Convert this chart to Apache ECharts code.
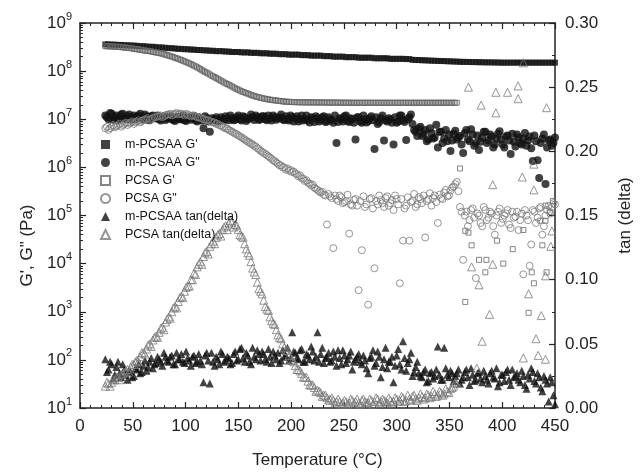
<!DOCTYPE html>
<html><head><meta charset="utf-8">
<script src="https://cdn.jsdelivr.net/npm/echarts@6/dist/echarts.min.js"></script>
<style>html,body{margin:0;padding:0;background:#fff}#c{width:642px;height:474px}</style>
</head><body><div id="c"></div>
<script>
// Temperature grids (°C)
const temps = [24,27,30,33,36,39,42,45,48,51,
54,57,60,63,66,69,72,75,78,81,
84,87,90,93,96,99,102,105,108,111,
114,117,120,123,126,129,132,135,138,141,
144,147,150,153,156,159,162,165,168,171,
174,177,180,183,186,189,192,195,198,201,
204,207,210,213,216,219,222,225,228,231,
234,237,240,243,246,249,252,255,258,261,
264,267,270,273,276,279,282,285,288,291,
294,297,300,303,306,309,312,315,318,321,
324,327,330,333,336,339,342,345,348,351,
354,357,360,363,366,369,372,375,378,381,
384,387,390,393,396,399,402,405,408,411,
414,417,420,423,426,429,432,435,438,441,
444,447,450];
const temps2 = [25.5,28.5,31.5,34.5,37.5,40.5,43.5,46.5,49.5,52.5,
55.5,58.5,61.5,64.5,67.5,70.5,73.5,76.5,79.5,82.5,
85.5,88.5,91.5,94.5,97.5,100.5,103.5,106.5,109.5,112.5,
115.5,118.5,121.5,124.5,127.5,130.5,133.5,136.5,139.5,142.5,
145.5,148.5,151.5,154.5,157.5,160.5,163.5,166.5,169.5,172.5,
175.5,178.5,181.5,184.5,187.5,190.5,193.5,196.5,199.5,202.5,
205.5,208.5,211.5,214.5,217.5,220.5,223.5,226.5,229.5,232.5,
235.5,238.5,241.5,244.5,247.5,250.5,253.5,256.5,259.5,262.5,
265.5,268.5,271.5,274.5,277.5,280.5,283.5,286.5,289.5,292.5,
295.5,298.5,301.5,304.5,307.5,310.5,313.5,316.5,319.5,322.5,
325.5,328.5,331.5,334.5,337.5,340.5,343.5,346.5,349.5,352.5,
355.5,358.5,361.5,364.5,367.5,370.5,373.5,376.5,379.5,382.5,
385.5,388.5,391.5,394.5,397.5,400.5,403.5,406.5,409.5,412.5,
415.5,418.5,421.5,424.5,427.5,430.5,433.5,436.5,439.5,442.5,
445.5,448.5];

// m-PCSAA G' (Pa)
const mGp = [3.6e8,3.6e8,3.55e8,3.55e8,3.5e8,3.5e8,3.45e8,3.45e8,3.4e8,3.4e8,
3.35e8,3.3e8,3.3e8,3.25e8,3.2e8,3.2e8,3.15e8,3.1e8,3.1e8,3.05e8,
3.0e8,3.0e8,2.95e8,2.9e8,2.9e8,2.85e8,2.85e8,2.8e8,2.8e8,2.75e8,
2.75e8,2.7e8,2.7e8,2.65e8,2.65e8,2.6e8,2.6e8,2.6e8,2.55e8,2.55e8,
2.5e8,2.5e8,2.5e8,2.45e8,2.45e8,2.45e8,2.4e8,2.4e8,2.4e8,2.35e8,
2.35e8,2.35e8,2.3e8,2.3e8,2.3e8,2.25e8,2.25e8,2.25e8,2.2e8,2.2e8,
2.2e8,2.2e8,2.15e8,2.15e8,2.15e8,2.1e8,2.1e8,2.1e8,2.1e8,2.05e8,
2.05e8,2.05e8,2.0e8,2.0e8,2.0e8,2.0e8,1.95e8,1.95e8,1.95e8,1.95e8,
1.9e8,1.9e8,1.9e8,1.9e8,1.9e8,1.85e8,1.85e8,1.85e8,1.85e8,1.85e8,
1.8e8,1.8e8,1.8e8,1.8e8,1.8e8,1.78e8,1.78e8,1.72e8,1.7e8,1.7e8,
1.68e8,1.68e8,1.66e8,1.65e8,1.64e8,1.63e8,1.62e8,1.62e8,1.6e8,1.6e8,
1.58e8,1.58e8,1.56e8,1.56e8,1.55e8,1.55e8,1.54e8,1.54e8,1.53e8,1.53e8,
1.52e8,1.52e8,1.52e8,1.51e8,1.51e8,1.5e8,1.5e8,1.5e8,1.5e8,1.5e8,
1.5e8,1.5e8,1.5e8,1.5e8,1.5e8,1.5e8,1.5e8,1.5e8,1.5e8,1.5e8,
1.5e8,1.5e8,1.5e8];

// m-PCSAA G" (Pa), two readings per temperature step
const mGdd = [1.2e7,1.0e7,1.3e7,1.1e7,9.5e6,1.25e7,1.05e7,1.15e7,9.8e6,1.2e7,
1.1e7,1.3e7,1.0e7,1.15e7,9.5e6,1.2e7,1.05e7,1.0e7,1.1e7,9.6e6,
1.05e7,1.0e7,9.2e6,1.1e7,1.0e7,9.5e6,1.05e7,9.8e6,1.15e7,9.0e6,
1.0e7,6.5e6,1.05e7,5.5e6,9.6e6,1.1e7,9.3e6,1.0e7,1.15e7,9.5e6,
1.05e7,9.8e6,1.2e7,9.4e6,1.1e7,1.0e7,1.25e7,9.6e6,1.1e7,1.0e7,
1.15e7,9.5e6,1.05e7,1.2e7,9.8e6,1.1e7,1.0e7,1.15e7,9.4e6,1.1e7,
1.05e7,9.0e6,1.2e7,1.0e7,9.5e6,1.1e7,8.8e6,1.05e7,9.6e6,1.15e7,
9.0e6,1.0e7,8.5e6,3.2e6,1.05e7,9.0e6,1.2e7,8.8e6,1.0e7,3.8e6,
1.1e7,8.5e6,1.0e7,9.2e6,1.15e7,2.4e6,8.0e6,1.05e7,3.6e6,9.0e6,
1.0e7,3.0e6,8.5e6,1.2e7,9.5e6,3.7e6,1.1e7,8.0e6,5.5e6,6.5e6,
4.5e6,6.0e6,3.8e6,5.2e6,4.2e6,2.6e6,5.5e6,4.0e6,3.5e6,2.2e6,
5.0e6,3.8e6,4.5e6,2.0e6,6.0e6,3.5e6,4.8e6,3.2e6,2.3e6,4.2e6,
5.5e6,3.6e6,4.4e6,3.0e6,5.0e6,3.8e6,2.6e6,4.6e6,1.9e6,3.4e6,
4.8e6,3.2e6,4.0e6,2.8e6,4.4e6,1.35e6,3.5e6,6.0e5,4.0e6,4.5e5,
3.6e6,2.8e6,4.2e6];
const mGdd2 = [1.1e7,1.35e7,9.8e6,1.2e7,1.05e7,1.3e7,1.0e7,1.25e7,1.1e7,1.0e7,
1.2e7,1.05e7,1.25e7,9.6e6,1.15e7,1.05e7,1.2e7,9.4e6,1.15e7,1.05e7,
1.15e7,9.6e6,1.1e7,1.0e7,1.2e7,9.2e6,1.1e7,1.05e7,9.5e6,1.1e7,
9.4e6,1.15e7,9.0e6,1.05e7,1.0e7,9.0e6,1.1e7,9.5e6,1.05e7,1.2e7,
9.5e6,1.1e7,1.0e7,1.15e7,9.2e6,1.05e7,1.1e7,1.2e7,9.6e6,1.15e7,
1.0e7,1.2e7,9.4e6,1.1e7,1.05e7,1.25e7,9.5e6,1.0e7,1.2e7,9.0e6,
1.15e7,1.0e7,9.4e6,1.2e7,8.6e6,1.05e7,1.15e7,9.0e6,1.1e7,8.8e6,
1.1e7,9.5e6,1.2e7,8.8e6,1.0e7,1.15e7,9.2e6,1.05e7,8.5e6,1.1e7,
9.0e6,1.2e7,8.6e6,1.05e7,9.5e6,1.1e7,8.8e6,1.2e7,9.4e6,1.05e7,
8.5e6,1.1e7,9.0e6,1.2e7,8.8e6,1.0e7,1.25e7,6.0e6,4.5e6,7.0e6,
5.0e6,3.5e6,6.5e6,4.0e6,7.7e6,5.5e6,3.2e6,6.0e6,4.8e6,3.6e6,
5.8e6,4.2e6,3.0e6,5.2e6,3.8e6,6.2e6,2.8e6,4.6e6,3.4e6,5.5e6,
3.2e6,4.8e6,2.6e6,4.0e6,5.6e6,3.0e6,4.4e6,3.6e6,5.0e6,2.7e6,
4.2e6,3.0e6,5.2e6,3.6e6,2.5e6,4.6e6,1.4e6,3.2e6,4.8e6,2.6e6,
3.8e6,3.2e6];

// PCSA G' (Pa): continuous part, offset readings, scattered tail
const pGp = [3.3e8,3.28e8,3.25e8,3.22e8,3.2e8,3.15e8,3.1e8,3.05e8,3.0e8,2.92e8,
2.85e8,2.78e8,2.7e8,2.65e8,2.6e8,2.52e8,2.45e8,2.38e8,2.3e8,2.2e8,
2.1e8,2.0e8,1.9e8,1.8e8,1.7e8,1.6e8,1.5e8,1.4e8,1.3e8,1.2e8,
1.1e8,1.0e8,9.3e7,8.5e7,7.8e7,7.2e7,6.6e7,6.1e7,5.6e7,5.2e7,
4.8e7,4.4e7,4.1e7,3.8e7,3.6e7,3.4e7,3.2e7,3.05e7,2.9e7,2.8e7,
2.7e7,2.62e7,2.55e7,2.5e7,2.45e7,2.4e7,2.35e7,2.32e7,2.3e7,2.28e7,
2.27e7,2.26e7,2.25e7,2.25e7,2.24e7,2.24e7,2.24e7,2.23e7,2.23e7,2.23e7,
2.22e7,2.22e7,2.22e7,2.22e7,2.21e7,2.21e7,2.21e7,2.21e7,2.2e7,2.2e7,
2.2e7,2.2e7,2.2e7,2.2e7,2.2e7,2.2e7,2.2e7,2.2e7,2.2e7,2.2e7,
2.2e7,2.2e7,2.2e7,2.2e7,2.2e7,2.2e7,2.2e7,2.2e7,2.2e7,2.2e7,
2.2e7,2.2e7,2.2e7,2.2e7,2.2e7,2.2e7,2.2e7,2.2e7,2.2e7,2.2e7,
2.2e7,2.2e7];
const pGp2 = [3.29e8,3.26e8,3.24e8,3.21e8,3.18e8,3.12e8,3.08e8,3.02e8,2.96e8,2.88e8,
2.82e8,2.74e8,2.68e8,2.62e8,2.56e8,2.48e8,2.42e8,2.34e8,2.25e8,2.15e8,
2.05e8,1.95e8,1.85e8,1.75e8,1.65e8,1.55e8,1.45e8,1.35e8,1.25e8,1.15e8,
1.05e8,9.6e7,8.9e7,8.1e7,7.5e7,6.9e7,6.3e7,5.8e7,5.4e7,5.0e7,
4.6e7,4.25e7,3.95e7,3.7e7,3.5e7,3.3e7,3.12e7,2.98e7,2.85e7,2.75e7,
2.66e7,2.58e7,2.52e7,2.47e7,2.42e7,2.38e7,2.34e7,2.31e7,2.29e7,2.27e7,
2.26e7,2.25e7,2.25e7,2.24e7,2.24e7,2.24e7,2.23e7,2.23e7,2.23e7,2.22e7,
2.22e7,2.22e7,2.22e7,2.21e7,2.21e7,2.21e7,2.2e7,2.2e7,2.2e7,2.2e7,
2.2e7,2.2e7,2.2e7,2.2e7,2.2e7,2.2e7,2.2e7,2.2e7,2.2e7,2.2e7,
2.2e7,2.2e7,2.2e7,2.2e7,2.2e7,2.2e7,2.2e7,2.2e7,2.2e7,2.2e7,
2.2e7,2.2e7,2.2e7,2.2e7,2.2e7,2.2e7,2.2e7,2.2e7,2.2e7,2.2e7,
2.2e7];
const pGpTailT = [360,365,368,371,378,384,385,401,365,425,436,430,428,441,445,438,442,395,410,420,441,448];
const pGpTailV = [9.5e5,4.8e4,4.4e4,2.4e4,1.2e4,6.6e3,1.2e4,1.0e4,1.6e3,950,7.8e4,3.9e3,6.6e3,7.8e4,1.2e5,2.4e4,6.6e3,3.0e4,2.0e4,5.0e4,1.6e5,2.0e5];

// PCSA G" (Pa), two readings per temperature step
const pGdd = [6.5e6,6.0e6,7.0e6,6.8e6,7.5e6,7.0e6,8.0e6,7.6e6,8.5e6,8.0e6,
9.0e6,8.6e6,9.5e6,1.0e7,9.6e6,1.05e7,1.1e7,1.15e7,1.1e7,1.2e7,
1.25e7,1.2e7,1.3e7,1.25e7,1.3e7,1.2e7,1.25e7,1.15e7,1.2e7,1.1e7,
1.05e7,1.0e7,9.5e6,9.0e6,8.5e6,8.0e6,7.5e6,7.0e6,6.4e6,6.0e6,
5.5e6,5.0e6,4.6e6,4.2e6,3.8e6,3.4e6,3.1e6,2.8e6,2.5e6,2.2e6,
2.0e6,1.8e6,1.6e6,1.4e6,1.25e6,1.1e6,1.0e6,9.0e5,8.5e5,8.0e5,
7.5e5,6.5e5,6.0e5,5.2e5,4.8e5,4.2e5,3.8e5,3.4e5,3.0e5,2.7e5,
6.5e4,2.5e5,2.1e4,2.2e5,2.6e5,1.8e5,2.0e5,4.2e4,1.6e5,2.2e5,
2.8e3,1.9e4,1.5e5,1.4e3,2.3e5,8.0e3,1.7e5,2.1e5,1.5e5,2.5e5,
1.8e5,1.3e5,2.2e5,3.9e3,3.0e4,1.6e5,3.0e4,2.0e5,1.5e5,2.4e5,
1.8e5,3.5e4,2.2e5,1.6e5,2.6e5,7.0e4,2.3e5,3.0e5,2.5e5,3.3e5,
4.0e5,5.0e5,1.5e5,1.2e4,1.2e5,8.0e4,1.4e5,5.0e3,1.0e5,6.0e4,
1.3e5,9.0e4,1.1e5,4.0e4,1.2e5,7.0e4,1.0e5,1.3e5,5.5e4,9.0e4,
1.2e5,8.0e4,6.0e3,1.0e5,9.0e3,1.3e5,7.0e4,1.4e5,4.0e4,1.0e5,
1.6e5,1.5e5,1.7e5];
const pGdd2 = [7.0e6,6.5e6,7.5e6,7.2e6,8.0e6,7.6e6,8.5e6,8.2e6,9.0e6,8.6e6,
9.5e6,9.2e6,1.0e7,1.05e7,1.0e7,1.1e7,1.15e7,1.2e7,1.15e7,1.25e7,
1.3e7,1.25e7,1.35e7,1.3e7,1.25e7,1.3e7,1.2e7,1.2e7,1.15e7,1.1e7,
1.05e7,1.0e7,9.6e6,9.0e6,8.6e6,8.0e6,7.4e6,6.8e6,6.4e6,5.8e6,
5.3e6,4.9e6,4.4e6,4.0e6,3.6e6,3.3e6,3.0e6,2.7e6,2.4e6,2.1e6,
1.9e6,1.7e6,1.5e6,1.35e6,1.2e6,1.1e6,1.0e6,9.5e5,8.8e5,8.2e5,
7.2e5,6.8e5,5.8e5,5.4e5,4.6e5,4.4e5,3.6e5,3.2e5,3.1e5,2.6e5,
2.8e5,2.3e5,2.6e5,2.0e5,2.4e5,1.9e5,2.7e5,1.7e5,2.1e5,1.6e5,
2.0e5,2.5e5,1.7e5,2.2e5,1.4e5,2.0e5,2.6e5,1.8e5,2.3e5,1.6e5,
2.1e5,2.6e5,1.7e5,2.2e5,1.4e5,2.4e5,1.9e5,2.8e5,1.7e5,2.2e5,
2.6e5,2.0e5,2.9e5,2.3e5,1.9e5,2.7e5,2.2e5,3.4e5,2.6e5,3.8e5,
4.5e5,3.2e5,1.2e5,1.0e5,6.0e4,1.3e5,9.0e4,1.1e5,7.0e4,1.5e5,
8.0e4,1.2e5,6.0e4,1.0e5,1.4e5,8.5e4,1.1e5,6.5e4,1.2e5,9.5e4,
5.0e4,1.1e5,1.3e5,8.0e4,2.5e4,1.2e5,9.0e4,1.5e5,6.0e4,1.3e5,
1.1e5,1.8e5];

// m-PCSAA tan(delta), two readings per temperature step
const mTan = [0.038,0.030,0.034,0.026,0.036,0.024,0.030,0.022,0.028,0.025,
0.030,0.027,0.033,0.029,0.036,0.031,0.035,0.038,0.033,0.040,
0.036,0.041,0.034,0.038,0.042,0.035,0.039,0.033,0.041,0.036,
0.037,0.020,0.043,0.019,0.036,0.040,0.034,0.042,0.037,0.039,
0.035,0.044,0.038,0.047,0.036,0.041,0.034,0.040,0.045,0.037,
0.042,0.036,0.040,0.044,0.038,0.035,0.045,0.041,0.037,0.059,
0.043,0.038,0.046,0.036,0.041,0.048,0.037,0.059,0.042,0.035,
0.040,0.036,0.044,0.033,0.039,0.045,0.035,0.041,0.030,0.038,
0.042,0.034,0.037,0.027,0.040,0.033,0.044,0.024,0.038,0.031,
0.036,0.020,0.041,0.034,0.052,0.029,0.038,0.025,0.032,0.027,
0.024,0.030,0.021,0.028,0.025,0.048,0.022,0.047,0.026,0.029,
0.021,0.027,0.019,0.024,0.030,0.018,0.026,0.022,0.028,0.020,
0.025,0.019,0.029,0.023,0.017,0.026,0.021,0.030,0.018,0.024,
0.027,0.020,0.025,0.015,0.023,0.028,0.019,0.024,0.013,0.022,
0.005,0.020,0.003];
const mTan2 = [0.028,0.036,0.023,0.032,0.027,0.034,0.026,0.029,0.024,0.031,
0.034,0.028,0.037,0.032,0.039,0.034,0.040,0.036,0.043,0.037,
0.040,0.034,0.043,0.038,0.036,0.044,0.037,0.040,0.035,0.042,
0.034,0.041,0.037,0.043,0.033,0.038,0.044,0.036,0.040,0.034,
0.042,0.037,0.046,0.039,0.043,0.036,0.047,0.038,0.042,0.044,
0.038,0.046,0.035,0.041,0.043,0.037,0.040,0.047,0.039,0.044,
0.039,0.045,0.036,0.042,0.038,0.044,0.040,0.036,0.047,0.039,
0.043,0.037,0.040,0.045,0.034,0.041,0.038,0.044,0.036,0.040,
0.036,0.041,0.031,0.039,0.045,0.035,0.040,0.032,0.047,0.036,
0.040,0.033,0.046,0.030,0.039,0.035,0.043,0.028,0.036,0.025,
0.028,0.020,0.027,0.023,0.030,0.026,0.022,0.031,0.024,0.027,
0.025,0.030,0.022,0.028,0.024,0.031,0.021,0.027,0.023,0.029,
0.022,0.027,0.024,0.031,0.020,0.026,0.028,0.022,0.030,0.025,
0.022,0.029,0.018,0.026,0.031,0.021,0.027,0.016,0.025,0.019,
0.024,0.010];

// PCSA tan(delta): continuous part, offset readings, scattered tail
const pTan = [0.017,0.019,0.020,0.022,0.024,0.026,0.028,0.030,0.032,0.034,
0.037,0.040,0.043,0.046,0.050,0.053,0.056,0.059,0.063,0.067,
0.071,0.075,0.079,0.083,0.087,0.091,0.095,0.100,0.105,0.110,
0.114,0.118,0.122,0.126,0.130,0.133,0.136,0.139,0.142,0.144,
0.145,0.143,0.139,0.134,0.128,0.121,0.114,0.106,0.098,0.091,
0.084,0.077,0.071,0.066,0.061,0.055,0.050,0.045,0.041,0.037,
0.033,0.030,0.027,0.024,0.021,0.018,0.016,0.014,0.012,0.010,
0.008,0.007,0.006,0.005,0.005,0.004,0.005,0.004,0.006,0.005,
0.004,0.006,0.005,0.004,0.006,0.005,0.007,0.005,0.006,0.004,
0.006,0.005,0.007,0.006,0.008,0.006,0.007,0.009,0.007,0.008,
0.009,0.008,0.010,0.009,0.011,0.010,0.012,0.011,0.013,0.015,
0.017,0.019];
const pTan2 = [0.020,0.017,0.022,0.024,0.022,0.027,0.029,0.028,0.034,0.036,
0.036,0.043,0.042,0.049,0.048,0.055,0.055,0.062,0.061,0.069,
0.070,0.078,0.078,0.086,0.086,0.094,0.095,0.100,0.104,0.112,
0.112,0.121,0.120,0.128,0.128,0.135,0.134,0.141,0.139,0.146,
0.141,0.142,0.135,0.133,0.124,0.119,0.109,0.104,0.093,0.089,
0.079,0.076,0.068,0.065,0.057,0.054,0.047,0.045,0.038,0.036,
0.030,0.029,0.024,0.024,0.018,0.018,0.013,0.013,0.009,0.010,
0.006,0.008,0.004,0.007,0.003,0.006,0.003,0.007,0.004,0.007,
0.003,0.007,0.004,0.007,0.003,0.008,0.004,0.007,0.005,0.008,
0.004,0.008,0.005,0.009,0.005,0.010,0.006,0.010,0.006,0.011,
0.007,0.011,0.008,0.013,0.009,0.013,0.010,0.015,0.012,0.016,
0.020];
const pTanTailT = [368,380,394,405,415,415,394,442,419,391,430,430,420,447,391,378,425,441,388,437,381,432,420,434,441,446,376,371];
const pTanTailV = [0.250,0.236,0.246,0.246,0.251,0.241,0.230,0.234,0.180,0.174,0.170,0.190,0.269,0.138,0.112,0.096,0.089,0.103,0.073,0.072,0.052,0.054,0.039,0.041,0.038,0.126,0.031,0.110];

// Axis tick labels
const logExps = [1,2,3,4,5,6,7,8,9];
const tanTicks = [0,0.05,0.10,0.15,0.20,0.25,0.30];

const FONT = '"Liberation Sans", Arial, Helvetica, sans-serif';
function pairs(xs, ys){ const out=[]; ys.forEach((v,i)=>{ if(v!=null) out.push([xs[i], v]); }); return out; }

const majorLog = logExps.map(e => Math.pow(10, e));
const minorLog = [];
for (let e = 1; e < 9; e++) for (let d = 2; d <= 9; d++) minorLog.push(d * Math.pow(10, e));

const chart = echarts.init(document.getElementById('c'), null, {renderer:'canvas'});
const axisLineStyle = {color:'#222', width:1.5};
const open = {color:'rgba(255,255,255,0)', borderColor:'#7a7a7a', borderWidth:1};
const openSq = {color:'rgba(255,255,255,0)', borderColor:'#666', borderWidth:1};

chart.setOption({
  animation:false,
  backgroundColor:'#fff',
  textStyle:{fontFamily:FONT},
  grid:{left:80, right:77, top:23, bottom:62},
  legend:{
    orient:'vertical', left:95, top:133, itemWidth:9, itemHeight:9, itemGap:5,
    textStyle:{fontSize:12.5, color:'#111', fontFamily:FONT, padding:[0,0,0,10]},
    data:["m-PCSAA G'", 'm-PCSAA G"', "PCSA G'", 'PCSA G"', 'm-PCSAA tan(delta)', 'PCSA tan(delta)']
  },
  xAxis:[{
    type:'value', min:0, max:450, interval:50, position:'bottom',
    axisLine:{show:true, lineStyle:axisLineStyle},
    axisTick:{show:true, inside:true, length:6, lineStyle:{color:'#222', width:1.2}},
    minorTick:{show:true, splitNumber:5, length:3, lineStyle:{color:'#222', width:1}},
    splitLine:{show:false},
    axisLabel:{fontSize:17, color:'#222', margin:10, fontFamily:FONT},
    name:'Temperature (°C)', nameLocation:'middle', nameGap:44,
    nameTextStyle:{fontSize:17, color:'#222', fontFamily:FONT}
  },{
    type:'value', min:0, max:450, interval:50, position:'top',
    axisLine:{show:true, lineStyle:axisLineStyle},
    axisTick:{show:true, inside:true, length:6, lineStyle:{color:'#222', width:1.2}},
    minorTick:{show:true, splitNumber:5, length:3, lineStyle:{color:'#222', width:1}},
    splitLine:{show:false}, axisLabel:{show:false}
  }],
  yAxis:[{
    type:'log', logBase:10, min:10, max:1e9, position:'left',
    axisLine:{show:true, lineStyle:axisLineStyle},
    axisTick:{show:true, inside:true, length:6, customValues:majorLog, lineStyle:{color:'#222', width:1.2}},
    splitLine:{show:false},
    axisLabel:{
      customValues:majorLog, margin:8, color:'#222',
      formatter:function(v){ return '{b|10}{s|' + Math.round(Math.log10(v)) + '}'; },
      rich:{ b:{fontSize:17, lineHeight:24, color:'#222', fontFamily:FONT},
             s:{fontSize:11, lineHeight:10, verticalAlign:'top', color:'#222', fontFamily:FONT} }
    },
    name:'G\', G" (Pa)', nameLocation:'middle', nameGap:37, nameRotate:90,
    nameTextStyle:{fontSize:17, color:'#222', fontFamily:FONT, padding:[0,60,0,0]}
  },{
    type:'log', logBase:10, min:10, max:1e9, position:'left',
    axisLine:{show:false},
    axisTick:{show:true, inside:true, length:3, customValues:minorLog, lineStyle:{color:'#222', width:1}},
    axisLabel:{show:false}, splitLine:{show:false}
  },{
    type:'value', min:0, max:0.3, interval:0.05, position:'right',
    axisLine:{show:true, lineStyle:axisLineStyle},
    axisTick:{show:true, inside:true, length:6, lineStyle:{color:'#222', width:1.2}},
    minorTick:{show:true, splitNumber:2, length:3, lineStyle:{color:'#222', width:1}},
    splitLine:{show:false},
    axisLabel:{customValues:tanTicks, fontSize:17, color:'#222', margin:10, fontFamily:FONT,
      formatter:function(v){ return v.toFixed(2); }},
    name:'tan (delta)', nameLocation:'middle', nameGap:62, nameRotate:90,
    nameTextStyle:{fontSize:17, color:'#222', fontFamily:FONT}
  }],
  series:[
    {name:"m-PCSAA G'", type:'scatter', yAxisIndex:0, symbol:'rect', symbolSize:6,
     itemStyle:{color:'#111'}, data:pairs(temps, mGp)},
    {name:'m-PCSAA G"', type:'scatter', yAxisIndex:0, symbol:'circle', symbolSize:8,
     itemStyle:{color:'#111'}, data:pairs(temps, mGdd).concat(pairs(temps2, mGdd2))},
    {name:"PCSA G'", type:'scatter', yAxisIndex:0, symbol:'rect', symbolSize:5,
     itemStyle:openSq,
     data:pairs(temps, pGp).concat(pairs(temps2, pGp2), pairs(pGpTailT, pGpTailV))},
    {name:'PCSA G"', type:'scatter', yAxisIndex:0, symbol:'circle', symbolSize:7,
     itemStyle:open, data:pairs(temps, pGdd).concat(pairs(temps2, pGdd2))},
    {name:'m-PCSAA tan(delta)', type:'scatter', yAxisIndex:2, symbol:'triangle', symbolSize:8,
     itemStyle:{color:'#111'}, data:pairs(temps, mTan).concat(pairs(temps2, mTan2))},
    {name:'PCSA tan(delta)', type:'scatter', yAxisIndex:2, symbol:'triangle', symbolSize:8,
     itemStyle:open,
     data:pairs(temps, pTan).concat(pairs(temps2, pTan2), pairs(pTanTailT, pTanTailV))}
  ]
});
</script></body></html>
